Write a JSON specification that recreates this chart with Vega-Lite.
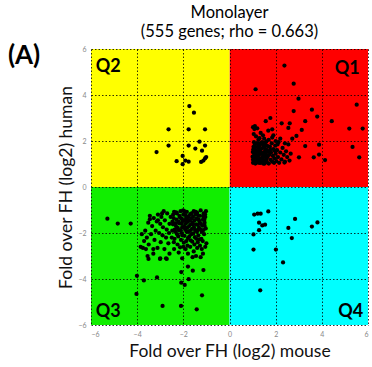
{
  "$schema": "https://vega.github.io/schema/vega-lite/v6.json",
  "width": 277,
  "height": 276,
  "autosize": "none",
  "padding": {"left": 91, "top": 49, "right": 4, "bottom": 42},
  "background": "white",
  "config": {"view": {"stroke": null}, "font": "Lato"},
  "title": {
    "text": "Monolayer",
    "subtitle": "(555 genes; rho = 0.663)",
    "anchor": "middle",
    "frame": "group",
    "font": "Lato",
    "fontSize": 16.5,
    "fontWeight": "normal",
    "color": "#000",
    "subtitleFont": "Lato",
    "subtitleFontSize": 16.5,
    "subtitleColor": "#000",
    "subtitlePadding": 3,
    "offset": 2
  },
  "datasets": {
    "quad": [
      {"q": "Q1", "x1": 0, "x2": 6, "y1": 0, "y2": 6, "lx": 5.1, "ly": 5.15},
      {"q": "Q2", "x1": -6, "x2": 0, "y1": 0, "y2": 6, "lx": -5.25, "ly": 5.2},
      {"q": "Q3", "x1": -6, "x2": 0, "y1": -6, "y2": 0, "lx": -5.25, "ly": -5.45},
      {"q": "Q4", "x1": 0, "x2": 6, "y1": -6, "y2": 0, "lx": 5.25, "ly": -5.45}
    ],
    "pts": [
      {"x":-3.16,"y":1.52},{"x":-2.64,"y":2.51},{"x":-2.64,"y":1.8},{"x":-2.29,"y":1.12},{"x":-2.03,"y":0.99},{"x":-2.03,"y":1.35},{"x":-1.91,"y":1.15},{"x":-1.77,"y":1.1},{"x":-1.74,"y":3.52},{"x":-1.54,"y":3.23},{"x":-1.77,"y":2.51},{"x":-1.77,"y":1.8},{"x":-1.48,"y":1.67},{"x":-1.3,"y":1.97},{"x":-1.19,"y":1.58},{"x":-1.06,"y":2.51},{"x":-1.06,"y":1.8},{"x":-1.23,"y":1.09},{"x":-1.13,"y":1.15},{"x":-1.06,"y":1.24},{"x":-1.01,"y":1.3},
      {"x":2.38,"y":5.28},{"x":2.78,"y":4.49},{"x":1.13,"y":4.25},{"x":2.99,"y":3.84},{"x":5.51,"y":3.58},{"x":2.78,"y":3.3},{"x":3.57,"y":3.36},{"x":3.8,"y":3.06},{"x":4.43,"y":2.86},{"x":1.77,"y":3.0},{"x":1.57,"y":2.86},{"x":3.28,"y":2.86},{"x":2.26,"y":2.77},{"x":2.61,"y":2.77},{"x":1.1,"y":2.65},{"x":1.68,"y":2.45},{"x":1.85,"y":2.51},{"x":2.55,"y":2.57},{"x":3.13,"y":2.48},{"x":5.19,"y":2.54},{"x":5.77,"y":2.54},{"x":2.9,"y":2.22},{"x":2.72,"y":2.1},{"x":3.28,"y":1.78},{"x":3.88,"y":1.84},{"x":5.33,"y":1.74},{"x":3.01,"y":1.29},{"x":3.65,"y":1.29},{"x":3.88,"y":1.41},{"x":4.14,"y":1.17},{"x":5.62,"y":1.29},{"x":2.38,"y":1.06},
      {"x":1.02,"y":1.05},{"x":1.05,"y":1.22},{"x":1.08,"y":1.41},{"x":1.03,"y":1.63},{"x":1.1,"y":1.85},{"x":1.12,"y":1.02},{"x":1.15,"y":1.3},{"x":1.18,"y":1.55},{"x":1.2,"y":1.12},{"x":1.22,"y":1.75},{"x":1.25,"y":1.38},{"x":1.28,"y":1.05},{"x":1.3,"y":1.62},{"x":1.33,"y":1.22},{"x":1.35,"y":1.9},{"x":1.38,"y":1.48},{"x":1.4,"y":1.08},{"x":1.42,"y":1.3},{"x":1.45,"y":1.7},{"x":1.48,"y":1.15},{"x":1.5,"y":1.52},{"x":1.52,"y":1.02},{"x":1.55,"y":1.35},{"x":1.58,"y":1.82},{"x":1.6,"y":1.2},{"x":1.0,"y":1.32},{"x":1.01,"y":1.52},{"x":1.04,"y":1.75},{"x":1.06,"y":1.95},{"x":1.09,"y":1.12},{"x":1.11,"y":1.6},{"x":1.14,"y":1.45},{"x":1.16,"y":1.05},{"x":1.19,"y":1.25},{"x":1.21,"y":1.9},{"x":1.24,"y":1.55},{"x":1.26,"y":1.18},{"x":1.29,"y":1.42},{"x":1.31,"y":1.8},{"x":1.34,"y":1.05},{"x":1.36,"y":1.65},{"x":1.39,"y":1.25},{"x":1.41,"y":1.95},{"x":1.44,"y":1.42},{"x":1.46,"y":1.02},{"x":1.49,"y":1.3},{"x":1.51,"y":1.72},{"x":1.54,"y":1.15},{"x":1.57,"y":1.45},{"x":1.59,"y":1.62},
      {"x":1.62,"y":1.08},{"x":1.65,"y":1.3},{"x":1.68,"y":1.55},{"x":1.7,"y":1.02},{"x":1.72,"y":1.4},{"x":1.75,"y":1.75},{"x":1.78,"y":1.18},{"x":1.8,"y":1.5},{"x":1.83,"y":1.9},{"x":1.85,"y":1.1},{"x":1.88,"y":1.35},{"x":1.9,"y":1.65},{"x":1.93,"y":1.05},{"x":1.95,"y":1.25},{"x":1.98,"y":1.8},{"x":2.0,"y":1.45},{"x":2.03,"y":1.12},{"x":2.06,"y":1.6},{"x":2.1,"y":1.3},{"x":2.12,"y":1.95},{"x":2.15,"y":1.05},{"x":2.2,"y":1.5},{"x":2.25,"y":1.2},{"x":2.3,"y":1.7},{"x":2.35,"y":1.4},{"x":2.4,"y":1.1},{"x":2.45,"y":1.55},{"x":2.5,"y":1.3},{"x":2.55,"y":1.85},{"x":2.6,"y":1.15},{"x":2.65,"y":1.45},{"x":1.6,"y":1.98},{"x":1.7,"y":2.05},{"x":1.5,"y":2.1},{"x":1.3,"y":2.12},{"x":1.15,"y":2.2},{"x":1.05,"y":2.3},{"x":1.85,"y":2.15},{"x":2.0,"y":2.0},{"x":1.25,"y":2.05},{"x":1.02,"y":2.6},{"x":1.08,"y":2.52},{"x":1.2,"y":2.55},{"x":1.35,"y":2.35},{"x":1.45,"y":2.25},{"x":1.9,"y":2.25},{"x":2.2,"y":2.1},{"x":2.4,"y":1.9},{"x":1.1,"y":1.7},{"x":1.32,"y":1.52},{"x":1.46,"y":1.85},{"x":1.56,"y":1.58},{"x":1.66,"y":1.78},{"x":1.76,"y":1.62},{"x":1.96,"y":1.58},{"x":2.08,"y":1.85},{"x":1.22,"y":1.35},{"x":1.38,"y":1.12},{"x":1.48,"y":1.42},{"x":1.62,"y":1.38},{"x":1.02,"y":1.18},{"x":1.12,"y":1.48},{"x":1.27,"y":1.68},{"x":1.53,"y":1.92},
      {"x":-5.29,"y":-1.38},{"x":-4.84,"y":-1.59},{"x":-4.28,"y":-1.59},{"x":-4.01,"y":-3.86},{"x":-3.71,"y":-4.06},{"x":-4.03,"y":-4.65},{"x":-3.14,"y":-3.93},{"x":-2.9,"y":-5.17},{"x":-2.1,"y":-5.17},{"x":-2.09,"y":-4.16},{"x":-1.94,"y":-4.26},{"x":-1.8,"y":-3.46},{"x":-1.59,"y":-3.64},{"x":-1.77,"y":-4.01},{"x":-2.09,"y":-3.7},{"x":-1.13,"y":-3.61},{"x":-1.19,"y":-4.71},{"x":-1.42,"y":-5.32},{"x":-3.51,"y":-3.13},{"x":-3.01,"y":-3.13},{"x":-2.72,"y":-3.13},
      {"x":-1.02,"y":-1.05},{"x":-1.05,"y":-1.3},{"x":-1.08,"y":-1.55},{"x":-1.03,"y":-1.8},{"x":-1.1,"y":-2.05},{"x":-1.12,"y":-1.15},{"x":-1.15,"y":-1.42},{"x":-1.18,"y":-1.68},{"x":-1.2,"y":-1.95},{"x":-1.22,"y":-2.25},{"x":-1.25,"y":-1.02},{"x":-1.28,"y":-1.25},{"x":-1.3,"y":-1.5},{"x":-1.32,"y":-1.78},{"x":-1.35,"y":-2.1},{"x":-1.38,"y":-2.4},{"x":-1.4,"y":-1.12},{"x":-1.42,"y":-1.38},{"x":-1.45,"y":-1.62},{"x":-1.48,"y":-1.88},{"x":-1.5,"y":-2.18},{"x":-1.52,"y":-2.5},{"x":-1.55,"y":-1.05},{"x":-1.58,"y":-1.3},{"x":-1.6,"y":-1.55},{"x":-1.62,"y":-1.82},{"x":-1.65,"y":-2.05},{"x":-1.68,"y":-2.32},{"x":-1.7,"y":-1.18},{"x":-1.72,"y":-1.45},{"x":-1.75,"y":-1.7},{"x":-1.78,"y":-1.95},{"x":-1.8,"y":-2.22},{"x":-1.82,"y":-2.55},{"x":-1.85,"y":-1.08},{"x":-1.88,"y":-1.35},{"x":-1.9,"y":-1.6},{"x":-1.92,"y":-1.85},{"x":-1.95,"y":-2.12},{"x":-1.98,"y":-2.42},{"x":-2.0,"y":-1.2},{"x":-2.03,"y":-1.48},{"x":-2.05,"y":-1.75},{"x":-2.08,"y":-2.0},{"x":-2.1,"y":-2.3},{"x":-2.12,"y":-1.05},{"x":-2.15,"y":-1.32},{"x":-2.18,"y":-1.58},{"x":-2.2,"y":-1.88},{"x":-2.22,"y":-2.15},{"x":-2.25,"y":-2.5},{"x":-2.28,"y":-1.15},{"x":-2.3,"y":-1.42},{"x":-2.32,"y":-1.7},{"x":-2.35,"y":-1.95},{"x":-2.38,"y":-2.25},{"x":-2.4,"y":-1.08},{"x":-2.42,"y":-1.35},{"x":-2.45,"y":-1.62},{"x":-2.48,"y":-1.9},{"x":-2.5,"y":-2.2},
      {"x":-1.06,"y":-1.18},{"x":-1.09,"y":-1.42},{"x":-1.14,"y":-1.88},{"x":-1.16,"y":-2.35},{"x":-1.24,"y":-1.6},{"x":-1.26,"y":-1.85},{"x":-1.29,"y":-2.28},{"x":-1.34,"y":-1.25},{"x":-1.37,"y":-1.65},{"x":-1.41,"y":-1.95},{"x":-1.44,"y":-2.25},{"x":-1.47,"y":-1.2},{"x":-1.51,"y":-1.45},{"x":-1.54,"y":-1.75},{"x":-1.57,"y":-2.02},{"x":-1.61,"y":-2.38},{"x":-1.64,"y":-1.15},{"x":-1.67,"y":-1.62},{"x":-1.71,"y":-1.9},{"x":-1.74,"y":-2.15},{"x":-1.77,"y":-1.28},{"x":-1.81,"y":-1.52},{"x":-1.84,"y":-1.78},{"x":-1.87,"y":-2.35},{"x":-1.91,"y":-1.22},{"x":-1.94,"y":-1.45},{"x":-1.97,"y":-1.72},{"x":-2.01,"y":-1.02},{"x":-2.04,"y":-2.1},{"x":-2.07,"y":-1.6},{"x":-2.11,"y":-1.88},{"x":-2.14,"y":-2.62},{"x":-2.17,"y":-1.25},{"x":-2.21,"y":-1.5},{"x":-2.24,"y":-1.78},{"x":-2.27,"y":-2.05},{"x":-2.31,"y":-1.1},{"x":-2.34,"y":-1.58},{"x":-2.37,"y":-1.85},{"x":-2.41,"y":-2.4},{"x":-2.44,"y":-1.2},{"x":-2.47,"y":-1.5},{"x":-1.0,"y":-2.45},{"x":-1.05,"y":-2.6},{"x":-1.2,"y":-2.7},{"x":-1.28,"y":-2.55},{"x":-1.4,"y":-2.65},{"x":-1.55,"y":-2.8},{"x":-1.7,"y":-2.6},{"x":-1.9,"y":-2.7},{"x":-2.0,"y":-2.6},{"x":-1.15,"y":-2.9},{"x":-1.25,"y":-3.05},{"x":-1.45,"y":-3.0},{"x":-1.6,"y":-3.05},{"x":-1.8,"y":-2.9},{"x":-2.05,"y":-3.1},{"x":-2.2,"y":-2.85},{"x":-2.4,"y":-2.7},{"x":-1.08,"y":-1.68},{"x":-1.33,"y":-1.42},{"x":-1.58,"y":-1.62},{"x":-1.83,"y":-1.42},{"x":-2.08,"y":-1.38},{"x":-1.13,"y":-1.28},{"x":-1.46,"y":-1.08},{"x":-1.96,"y":-1.05},{"x":-1.66,"y":-1.38},{"x":-1.36,"y":-1.85},{"x":-1.86,"y":-1.95},
      {"x":-2.55,"y":-1.3},{"x":-2.6,"y":-1.6},{"x":-2.62,"y":-2.0},{"x":-2.65,"y":-2.45},{"x":-2.7,"y":-1.15},{"x":-2.72,"y":-1.85},{"x":-2.75,"y":-2.2},{"x":-2.8,"y":-1.45},{"x":-2.82,"y":-2.7},{"x":-2.85,"y":-1.05},{"x":-2.88,"y":-1.75},{"x":-2.9,"y":-2.1},{"x":-2.95,"y":-1.3},{"x":-2.98,"y":-2.4},{"x":-3.0,"y":-1.6},{"x":-3.05,"y":-2.0},{"x":-3.1,"y":-1.2},{"x":-3.12,"y":-2.65},{"x":-3.15,"y":-1.5},{"x":-3.2,"y":-1.9},{"x":-3.25,"y":-2.3},{"x":-3.28,"y":-1.35},{"x":-3.3,"y":-2.7},{"x":-3.35,"y":-1.7},{"x":-3.4,"y":-2.05},{"x":-3.45,"y":-1.25},{"x":-3.5,"y":-2.5},{"x":-3.52,"y":-1.55},{"x":-3.58,"y":-2.2},{"x":-3.62,"y":-2.7},{"x":-3.65,"y":-1.9},{"x":-3.7,"y":-2.35},{"x":-3.75,"y":-2.65},{"x":-3.8,"y":-2.05},{"x":-3.85,"y":-2.6},{"x":-3.55,"y":-3.0},{"x":-3.3,"y":-2.9},{"x":-2.6,"y":-2.9},{"x":-2.75,"y":-3.1},{"x":-3.0,"y":-3.1},{"x":-3.45,"y":-1.4},{"x":-3.1,"y":-1.45},{"x":-2.92,"y":-1.15},
      {"x":1.07,"y":-1.2},{"x":1.22,"y":-1.16},{"x":1.35,"y":-1.16},{"x":1.68,"y":-1.06},{"x":1.28,"y":-1.55},{"x":1.42,"y":-1.67},{"x":1.54,"y":-1.64},{"x":1.28,"y":-1.88},{"x":1.04,"y":-2.06},{"x":1.04,"y":-2.72},{"x":2.01,"y":-2.72},{"x":2.32,"y":-3.28},{"x":1.33,"y":-4.49},{"x":2.55,"y":-1.78},{"x":2.84,"y":-1.39},{"x":2.7,"y":-2.22},{"x":3.57,"y":-1.72},{"x":3.81,"y":-1.54}
    ],
    "panel": [{"label": "(A)", "x": -8.9, "y": 5.7}]
  },
  "layer": [
    {
      "data": {"name": "quad"},
      "mark": {"type": "rect"},
      "encoding": {
        "x": {"field": "x1", "type": "quantitative", "scale": {"domain": [-6, 6], "nice": false},
          "axis": {"title": "Fold over FH (log2) mouse", "values": [-6, -4, -2, 0, 2, 4, 6], "grid": true, "gridColor": "#000", "gridDash": [1.5, 2], "gridWidth": 1, "gridOpacity": 0.8, "zindex": 1, "domain": false, "ticks": false, "labelFontSize": 7, "labelColor": "#888", "labelPadding": 5, "titleFont": "Lato", "titleFontSize": 17.5, "titleFontWeight": "normal", "titleColor": "#111", "titlePadding": 5}},
        "x2": {"field": "x2"},
        "y": {"field": "y1", "type": "quantitative", "scale": {"domain": [-6, 6], "nice": false},
          "axis": {"title": "Fold over FH (log2) human", "values": [-6, -4, -2, 0, 2, 4, 6], "grid": true, "gridColor": "#000", "gridDash": [1.5, 2], "gridWidth": 1, "gridOpacity": 0.8, "zindex": 1, "domain": false, "ticks": false, "labelFontSize": 7, "labelColor": "#888", "labelPadding": 5, "titleFont": "Lato", "titleFontSize": 17.5, "titleFontWeight": "normal", "titleColor": "#111", "titlePadding": 2}},
        "y2": {"field": "y2"},
        "color": {"field": "q", "type": "nominal", "legend": null,
          "scale": {"domain": ["Q1", "Q2", "Q3", "Q4"], "range": ["#ff0000", "#ffff00", "#11ee00", "#00ffff"]}}
      }
    },
    {
      "data": {"name": "pts"},
      "mark": {"type": "point", "filled": true, "size": 18, "opacity": 1, "color": "#000"},
      "encoding": {
        "x": {"field": "x", "type": "quantitative"},
        "y": {"field": "y", "type": "quantitative"}
      }
    },
    {
      "data": {"name": "quad"},
      "mark": {"type": "text", "font": "Lato", "fontSize": 18, "fontWeight": "bold", "color": "#000"},
      "encoding": {
        "x": {"field": "lx", "type": "quantitative"},
        "y": {"field": "ly", "type": "quantitative"},
        "text": {"field": "q"}
      }
    },
    {
      "data": {"name": "panel"},
      "mark": {"type": "text", "font": "Lato", "fontSize": 26, "fontWeight": "bold", "color": "#000", "clip": false},
      "encoding": {
        "x": {"field": "x", "type": "quantitative"},
        "y": {"field": "y", "type": "quantitative"},
        "text": {"field": "label"}
      }
    }
  ]
}
